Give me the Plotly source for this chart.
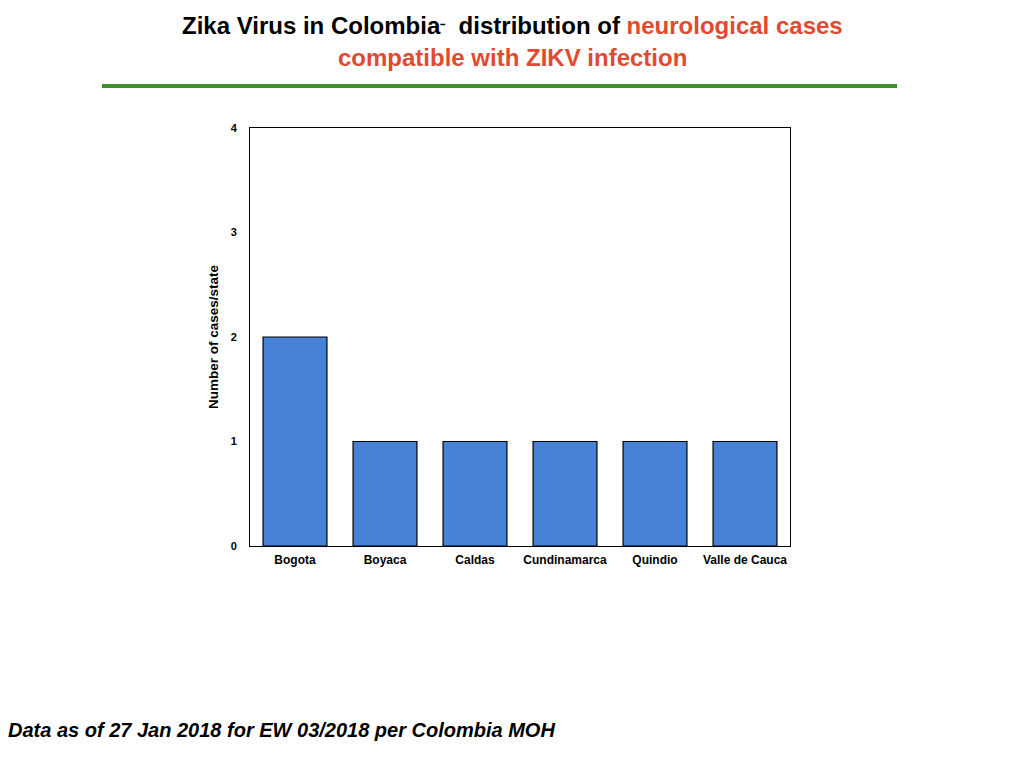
import plotly.graph_objects as go

states = ["Bogota", "Boyaca", "Caldas", "Cundinamarca", "Quindio", "Valle de Cauca"]
cases = [2, 1, 1, 1, 1, 1]
y_ticks = [0, 1, 2, 3, 4]

# page body has an 8px margin, so offsets are shifted by 8px
L, T, W, H = 242, 120, 540, 418

fig = go.Figure()
fig.add_trace(go.Bar(
    x=states, y=cases,
    marker=dict(color="#4882d6", line=dict(color="black", width=1.2)),
    width=0.71,
))

fig.update_layout(
    width=1024, height=768,
    paper_bgcolor="white", plot_bgcolor="white",
    margin=dict(l=L, r=1024 - L - W, t=T, b=768 - T - H),
    showlegend=False,
    font=dict(family="Liberation Sans, Arial, sans-serif", color="black"),
    xaxis=dict(
        showline=True, linecolor="black", linewidth=1, mirror=True,
        ticks="", tickfont=dict(size=12, weight="bold"), ticklabelstandoff=3,
        showgrid=False,
    ),
    yaxis=dict(
        range=[0, 4], tickvals=y_ticks, showline=True, linecolor="black", linewidth=1, mirror=True,
        ticks="", showgrid=False, zeroline=False, ticklabelstandoff=10,
        tickfont=dict(size=11, weight="bold"),
        title=dict(text="<b>Number of cases/state</b>", font=dict(size=13.5), standoff=8),
    ),
)

def px(x):
    return (x - 250) / W

def py(y):
    return 1 - (y - 128) / H

fig.add_annotation(
    xref="paper", yref="paper", xanchor="center", yanchor="middle",
    x=px(512), y=py(25),
    text="<b>Zika Virus in Colombia<span style='font-size:16px'>⁻</span>  distribution of <span style='color:#e04a31'>neurological cases</span></b>",
    showarrow=False, font=dict(size=24, color="black"),
)
fig.add_annotation(
    xref="paper", yref="paper", xanchor="center", yanchor="middle",
    x=px(512), y=py(57),
    text="<b>compatible with ZIKV infection</b>",
    showarrow=False, font=dict(size=24, color="#e04a31"),
)
fig.add_shape(
    type="line", xref="paper", yref="paper",
    x0=px(102), x1=px(897), y0=py(86), y1=py(86),
    line=dict(color="#3f8f2f", width=4),
)
fig.add_annotation(
    xref="paper", yref="paper", xanchor="left", yanchor="middle",
    x=px(6), y=py(730),
    text="<b><i>Data as of 27 Jan 2018 for EW 03/2018 per Colombia MOH</i></b>",
    showarrow=False, font=dict(size=20, color="black"),
)

fig.write_html("out.html")
